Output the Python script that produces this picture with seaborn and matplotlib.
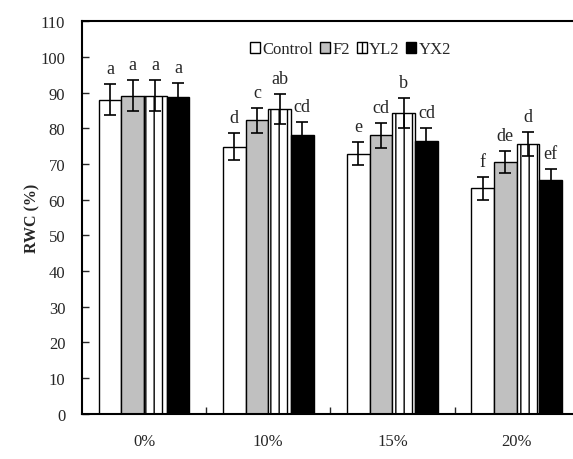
import matplotlib
matplotlib.use("Agg")
import matplotlib.pyplot as plt
from matplotlib.patches import Patch
import seaborn as sns
import pandas as pd
import numpy as np

categories = ["0%", "10%", "15%", "20%"]
treatments = ["Control", "F2", "YL2", "YX2"]
control = [88.0, 74.8, 72.9, 63.2]
f2 = [89.1, 82.2, 78.1, 70.6]
yl2 = [89.1, 85.4, 84.3, 75.5]
yx2 = [88.7, 78.0, 76.5, 65.4]
control_err = [4.3, 3.8, 3.2, 3.2]
f2_err = [4.4, 3.6, 3.5, 3.1]
yl2_err = [4.4, 4.2, 4.1, 3.4]
yx2_err = [4.0, 3.7, 3.5, 3.1]
control_lbl = ["a", "d", "e", "f"]
f2_lbl = ["a", "c", "cd", "de"]
yl2_lbl = ["a", "ab", "b", "d"]
yx2_lbl = ["a", "cd", "cd", "ef"]

values = [control, f2, yl2, yx2]
errs = [control_err, f2_err, yl2_err, yx2_err]
lbls = [control_lbl, f2_lbl, yl2_lbl, yx2_lbl]

rows = []
for t, vals, es, ls in zip(treatments, values, errs, lbls):
    for c, v, e, l in zip(categories, vals, es, ls):
        rows.append({"Stress": c, "Treatment": t, "RWC": v, "err": e, "lbl": l})
df = pd.DataFrame(rows)

sns.set_style("white")
plt.rcParams["font.family"] = ["Liberation Serif", "DejaVu Serif"]
plt.rcParams["hatch.linewidth"] = 1.0

fig = plt.figure(figsize=(5.73, 4.6), dpi=100)
ax = fig.add_axes([0.143, 0.098, 1.01 - 0.143, 0.952 - 0.098])

faces = {"Control": "white", "F2": "#c0c0c0", "YL2": "white", "YX2": "black"}
hatches = {"Control": "", "F2": "", "YL2": "||", "YX2": ""}

sns.barplot(data=df, x="Stress", y="RWC", hue="Treatment", order=categories,
            hue_order=treatments, palette=faces, width=0.73, gap=0,
            edgecolor="black", linewidth=1.0, errorbar=None, legend=False, ax=ax)

bars = [p for p in ax.patches if p.get_height() > 0]
for i, t in enumerate(treatments):
    for j, c in enumerate(categories):
        p = bars[i * len(categories) + j]
        if hatches[t]:
            p.set_hatch(hatches[t])
        xc = p.get_x() + p.get_width() / 2
        v = values[i][j]
        e = errs[i][j]
        ax.errorbar(xc, v, yerr=e, fmt="none", ecolor="black", elinewidth=1.2,
                    capsize=4.5, capthick=1.2, zorder=5)
        ax.annotate(lbls[i][j], (xc, v + e), xytext=(0, 5), textcoords="offset points",
                    ha="center", va="bottom", fontsize=13)

ax.set_ylim(0, 110)
ax.set_yticks(np.arange(0, 111, 10))
ax.set_xlim(-0.5, 3.5)
ax.set_xticks(range(len(categories)))
ax.set_xticklabels(categories, fontsize=12)
ax.set_xticks([0.5, 1.5, 2.5], minor=True)
ax.tick_params(axis="x", which="major", length=0, pad=14)
ax.tick_params(axis="x", which="minor", direction="in", length=5, width=1, bottom=True)
ax.tick_params(axis="y", direction="in", length=5, width=1, left=True, labelsize=12, pad=12)
ax.set_xlabel("")
ax.set_ylabel("RWC (%)", fontsize=11.5, fontweight="bold", labelpad=0)
for s in ["left", "bottom", "top", "right"]:
    ax.spines[s].set_color("black")
    ax.spines[s].set_linewidth(1.5)

handles = [Patch(facecolor=faces[t], edgecolor="black", hatch=hatches[t], label=t)
           for t in treatments]
ax.legend(handles=handles, loc="upper left", bbox_to_anchor=(0.325, 0.965), ncol=4,
          frameon=False, handlelength=0.6, handleheight=0.6, handletextpad=0.15,
          columnspacing=0.4, fontsize=12, borderaxespad=0)

fig.savefig("out.png", dpi=100)
